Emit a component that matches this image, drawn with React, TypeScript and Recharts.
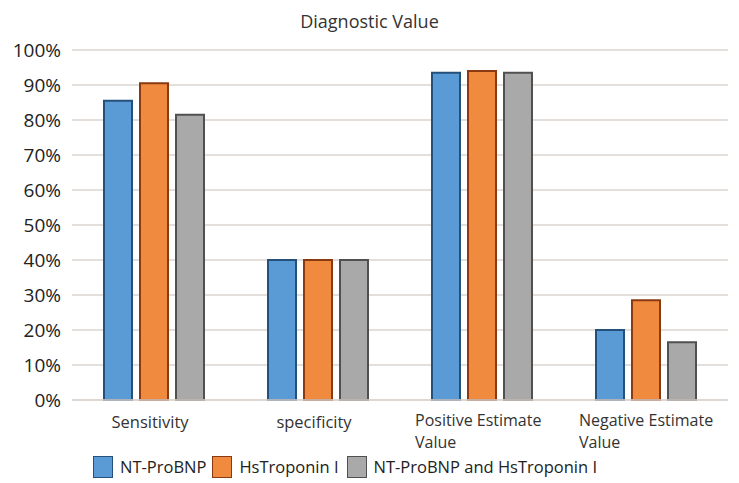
import { BarChart, Bar, XAxis, YAxis, CartesianGrid } from 'recharts';

const categories = ['Sensitivity', 'specificity', 'Positive Estimate|Value', 'Negative Estimate|Value'];
const ntProBnp = [85.5, 40, 93.5, 20];
const hsTroponin = [90.5, 40, 94, 28.5];
const combined = [81.5, 40, 93.5, 16.5];
const yTicks = [0, 10, 20, 30, 40, 50, 60, 70, 80, 90, 100];
const seriesNames = ['NT-ProBNP', 'HsTroponin I', 'NT-ProBNP and HsTroponin I'];

const FILLS = ['#5b9bd5', '#f08a3e', '#a9a9a9'];
const STROKES = ['#24507c', '#8a3a10', '#505050'];
const FONT = '"Open Sans", sans-serif';

const data = categories.map((c, i) => ({
  name: c,
  a: ntProBnp[i],
  b: hsTroponin[i],
  c: combined[i],
}));

function CategoryTick({ x, y, payload }: any) {
  const lines = String(payload.value).split('|');
  if (lines.length === 1) {
    return (
      <text x={x - 4} y={y + 20} textAnchor="middle" fontSize={16.5} fill="#333" fontFamily={FONT}>
        {lines[0]}
      </text>
    );
  }
  return (
    <g>
      {lines.map((l, i) => (
        <text key={i} x={x - 67} y={y + 18 + i * 22} textAnchor="start" fontSize={16} fill="#333" fontFamily={FONT}>
          {l}
        </text>
      ))}
    </g>
  );
}

export default function App() {
  return (
    <div style={{ position: 'absolute', left: 0, top: 0, width: 739, height: 483, background: '#fff' }}>
      <div
        style={{
          position: 'absolute',
          top: 9,
          left: 0,
          width: 739,
          textAlign: 'center',
          fontFamily: FONT,
          fontSize: 18,
          color: '#333',
        }}
      >
        Diagnostic Value
      </div>
      <BarChart
        width={739}
        height={483}
        data={data}
        margin={{ top: 50, right: 11, left: 0, bottom: 0 }}
        barSize={28}
        barGap={8}
      >
        <CartesianGrid vertical={false} stroke="#dcd4cf" strokeWidth={1.5} />
        <XAxis
          dataKey="name"
          height={83}
          tick={<CategoryTick />}
          tickLine={false}
          axisLine={{ stroke: '#dcd4cf', strokeWidth: 1.5 }}
          interval={0}
        />
        <YAxis
          domain={[0, 100]}
          ticks={yTicks}
          width={72}
          tickFormatter={(v) => `${v}%`}
          tick={{ fontSize: 19, fill: '#222', fontFamily: FONT }}
          tickLine={false}
          axisLine={false}
          tickMargin={5}
        />
        <Bar dataKey="a" fill={FILLS[0]} stroke={STROKES[0]} strokeWidth={2} isAnimationActive={false} />
        <Bar dataKey="b" fill={FILLS[1]} stroke={STROKES[1]} strokeWidth={2} isAnimationActive={false} />
        <Bar dataKey="c" fill={FILLS[2]} stroke={STROKES[2]} strokeWidth={2} isAnimationActive={false} />
      </BarChart>
      <div
        style={{
          position: 'absolute',
          top: 455,
          left: 93,
          display: 'flex',
          alignItems: 'center',
          fontFamily: FONT,
          fontSize: 16.5,
          color: '#222',
        }}
      >
        {seriesNames.map((n, i) => (
          <div key={n} style={{ display: 'flex', alignItems: 'center', marginRight: i === 0 ? 6 : 8 }}>
            <span
              style={{
                display: 'inline-block',
                width: 18,
                height: 20,
                background: FILLS[i],
                border: `1.5px solid ${STROKES[i]}`,
                marginRight: 7,
              }}
            />
            <span>{n}</span>
          </div>
        ))}
      </div>
    </div>
  );
}
